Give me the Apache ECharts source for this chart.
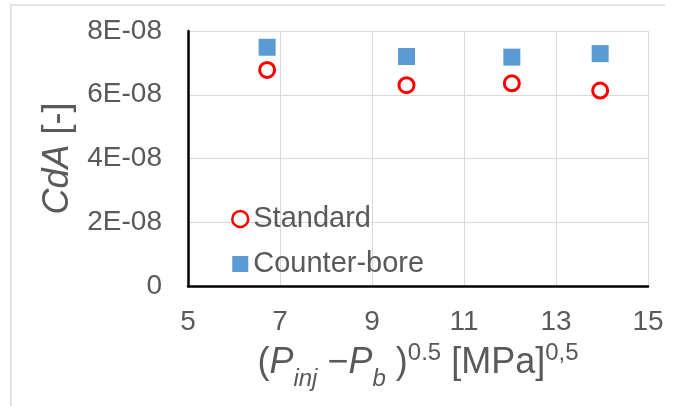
<!DOCTYPE html>
<html>
<head>
<meta charset="utf-8">
<script src="https://cdn.jsdelivr.net/npm/echarts@6/dist/echarts.min.js"></script>
<style>
  html, body { margin: 0; padding: 0; background: #fff; }
  #chart { width: 675px; height: 406px; }
</style>
</head>
<body>
<div id="chart"></div>
<script>
// Pressure-drop term (Pinj - Pb)^0.5 at each test point, MPa^0.5
const pressureRoot = [6.72, 9.75, 12.04, 13.96];
// Discharge coefficient times area, CdA [-]
const cdaStandard = [6.78e-8, 6.30e-8, 6.36e-8, 6.13e-8];
const cdaCounterBore = [7.49e-8, 7.20e-8, 7.18e-8, 7.29e-8];
const seriesNames = ['Standard', 'Counter-bore'];
const xTicks = { min: 5, max: 15, step: 2 };
const yTicks = { min: 0, max: 8e-8, step: 2e-8 };

const TEXT = '#595959';
const FONT = '"Liberation Sans", Arial, sans-serif';

// Excel-style scientific labels: 8E-08, 0
function sciLabel(v) {
  if (Math.abs(v) < 1e-20) return '0';
  const [m, e] = v.toExponential(0).split('e');
  const exp = parseInt(e, 10);
  const sign = exp < 0 ? '-' : '+';
  const digits = String(Math.abs(exp)).padStart(2, '0');
  return m + 'E' + sign + digits;
}

function pairs(xs, ys) { return xs.map((x, i) => [x, ys[i]]); }

const chart = echarts.init(document.getElementById('chart'));
chart.setOption({
  backgroundColor: '#fff',
  animation: false,
  textStyle: { fontFamily: FONT, color: TEXT },
  graphic: [{
    type: 'polyline',
    shape: { points: [[11, 406], [11, 5], [665, 5]] },
    style: { stroke: '#d9d9d9', lineWidth: 1.5, fill: null },
    silent: true
  }],
  grid: { left: 188, right: 27, top: 31, bottom: 120 },
  legend: {
    orient: 'vertical',
    left: 226,
    top: 198,
    itemWidth: 16,
    itemHeight: 16,
    itemGap: 13,
    textStyle: { fontFamily: FONT, fontSize: 29, color: TEXT, lineHeight: 32 },
    data: [
      { name: seriesNames[0], icon: 'circle',
        itemStyle: { color: '#fff', borderColor: '#ff0000', borderWidth: 2.5 } },
      { name: seriesNames[1], icon: 'rect',
        itemStyle: { color: '#5b9bd5', borderWidth: 0 } }
    ]
  },
  xAxis: {
    type: 'value',
    min: xTicks.min, max: xTicks.max, interval: xTicks.step,
    axisLine: { show: true, lineStyle: { color: '#000', width: 2.5 } },
    axisTick: { show: false },
    splitLine: { show: true, lineStyle: { color: '#d9d9d9', width: 1 } },
    axisLabel: { fontFamily: FONT, fontSize: 28, color: TEXT, margin: 22 },
    name: '({pi|P}{sub|inj} −{pi|P}{sub|b} ){sup|0.5} [MPa]{sup|0,5}',
    nameLocation: 'middle',
    nameGap: 52,
    nameTextStyle: {
      fontFamily: FONT, fontSize: 36, color: TEXT, lineHeight: 44,
      rich: {
        pi: { fontFamily: FONT, fontSize: 36, fontStyle: 'italic', color: TEXT, lineHeight: 44 },
        sub: { fontFamily: FONT, fontSize: 24, fontStyle: 'italic', color: TEXT,
               lineHeight: 24, verticalAlign: 'bottom', padding: [0, 0, -6, 0] },
        sup: { fontFamily: FONT, fontSize: 24, color: TEXT,
               lineHeight: 24, verticalAlign: 'top', padding: [0, 0, 0, 0] }
      }
    }
  },
  yAxis: {
    type: 'value',
    min: yTicks.min, max: yTicks.max, interval: yTicks.step,
    axisLine: { show: true, lineStyle: { color: '#000', width: 2.5 } },
    axisTick: { show: false },
    splitLine: { show: true, lineStyle: { color: '#d9d9d9', width: 1 } },
    axisLabel: { fontFamily: FONT, fontSize: 28, color: TEXT, margin: 26, formatter: sciLabel },
    name: '{it|CdA} [-]',
    nameLocation: 'middle',
    nameRotate: 90,
    nameGap: 105,
    nameTextStyle: {
      fontFamily: FONT, fontSize: 36, color: TEXT,
      rich: { it: { fontFamily: FONT, fontSize: 36, fontStyle: 'italic', color: TEXT } }
    }
  },
  series: [
    {
      name: seriesNames[0],
      type: 'scatter',
      symbol: 'circle',
      symbolSize: 15,
      itemStyle: { color: '#fff', borderColor: '#ff0000', borderWidth: 3, opacity: 1 },
      data: pairs(pressureRoot, cdaStandard),
      z: 3
    },
    {
      name: seriesNames[1],
      type: 'scatter',
      symbol: 'rect',
      symbolSize: 17,
      itemStyle: { color: '#5b9bd5', opacity: 1 },
      data: pairs(pressureRoot, cdaCounterBore),
      z: 3
    }
  ]
});
</script>
</body>
</html>
